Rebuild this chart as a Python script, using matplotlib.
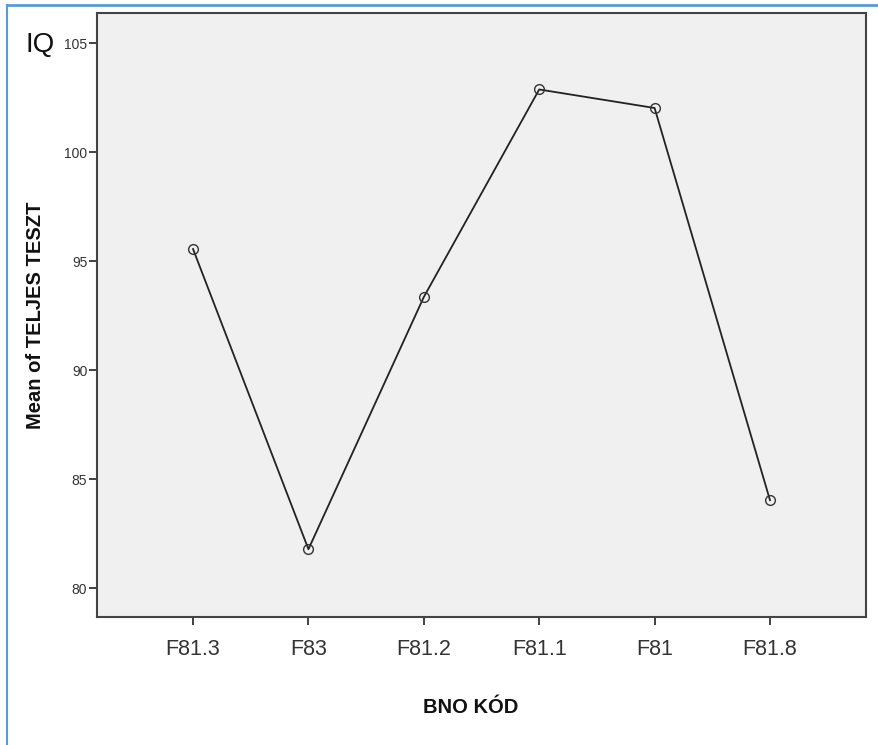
import matplotlib
matplotlib.use('Agg')
import matplotlib.pyplot as plt
from matplotlib.lines import Line2D

plt.rcParams['font.family'] = ['Liberation Sans', 'DejaVu Sans']

# Data
categories = ['F81.3', 'F83', 'F81.2', 'F81.1', 'F81', 'F81.8']
mean_scores = [95.55, 81.78, 93.35, 102.87, 102.02, 84.03]
y_ticks = [80, 85, 90, 95, 100, 105]

fig = plt.figure(figsize=(8.79, 7.45), dpi=100)
fig.patch.set_facecolor('white')

ax = fig.add_axes([0.1104, 0.1718, 0.8748, 0.8108])
ax.set_facecolor('#F0F0F0')

x = list(range(len(categories)))
ax.plot(x, mean_scores, color='#222222', linewidth=1.3, zorder=2)
ax.plot(x, mean_scores, linestyle='none', marker='o', markersize=7,
        markerfacecolor='none', markeredgecolor='#333333', markeredgewidth=1.0, zorder=3)

ax.set_xlim(-0.832, 5.832)
ax.set_ylim(78.67, 106.38)
ax.set_xticks(x)
ax.set_xticklabels(categories, fontsize=15.5, color='#333333')
ax.set_yticks(y_ticks)
ax.set_yticklabels([str(v) for v in y_ticks], fontsize=10, color='#333333')
ax.tick_params(axis='both', direction='out', length=6, width=1.3, color='#333333')
ax.tick_params(axis='x', pad=10)
ax.tick_params(axis='y', pad=1)

for side, spine in ax.spines.items():
    spine.set_color('#444444')
    spine.set_linewidth(1.5)

ax.set_xlabel('BNO KÓD', fontsize=14.5, fontweight='bold', color='#111111')
ax.xaxis.set_label_coords(0.486, -0.134)
ax.set_ylabel('Mean of TELJES TESZT', fontsize=14.5, fontweight='bold', color='#111111')
ax.yaxis.set_label_coords(-0.068, 0.5)

# "IQ" annotation in the top-left corner
fig.text(26 / 879, 1 - 45 / 745, 'IQ', fontsize=20, color='#111111', ha='left', va='center')

# light blue frame, cropped at the right and bottom edges
frame_color = '#5B9BD5'
fig.add_artist(Line2D([7 / 879, 1], [1 - 5 / 745, 1 - 5 / 745], color=frame_color,
                      linewidth=2, transform=fig.transFigure))
fig.add_artist(Line2D([7 / 879, 7 / 879], [0, 1 - 5 / 745], color=frame_color,
                      linewidth=1.5, transform=fig.transFigure))

fig.savefig('out.png', dpi=100)
plt.close(fig)
